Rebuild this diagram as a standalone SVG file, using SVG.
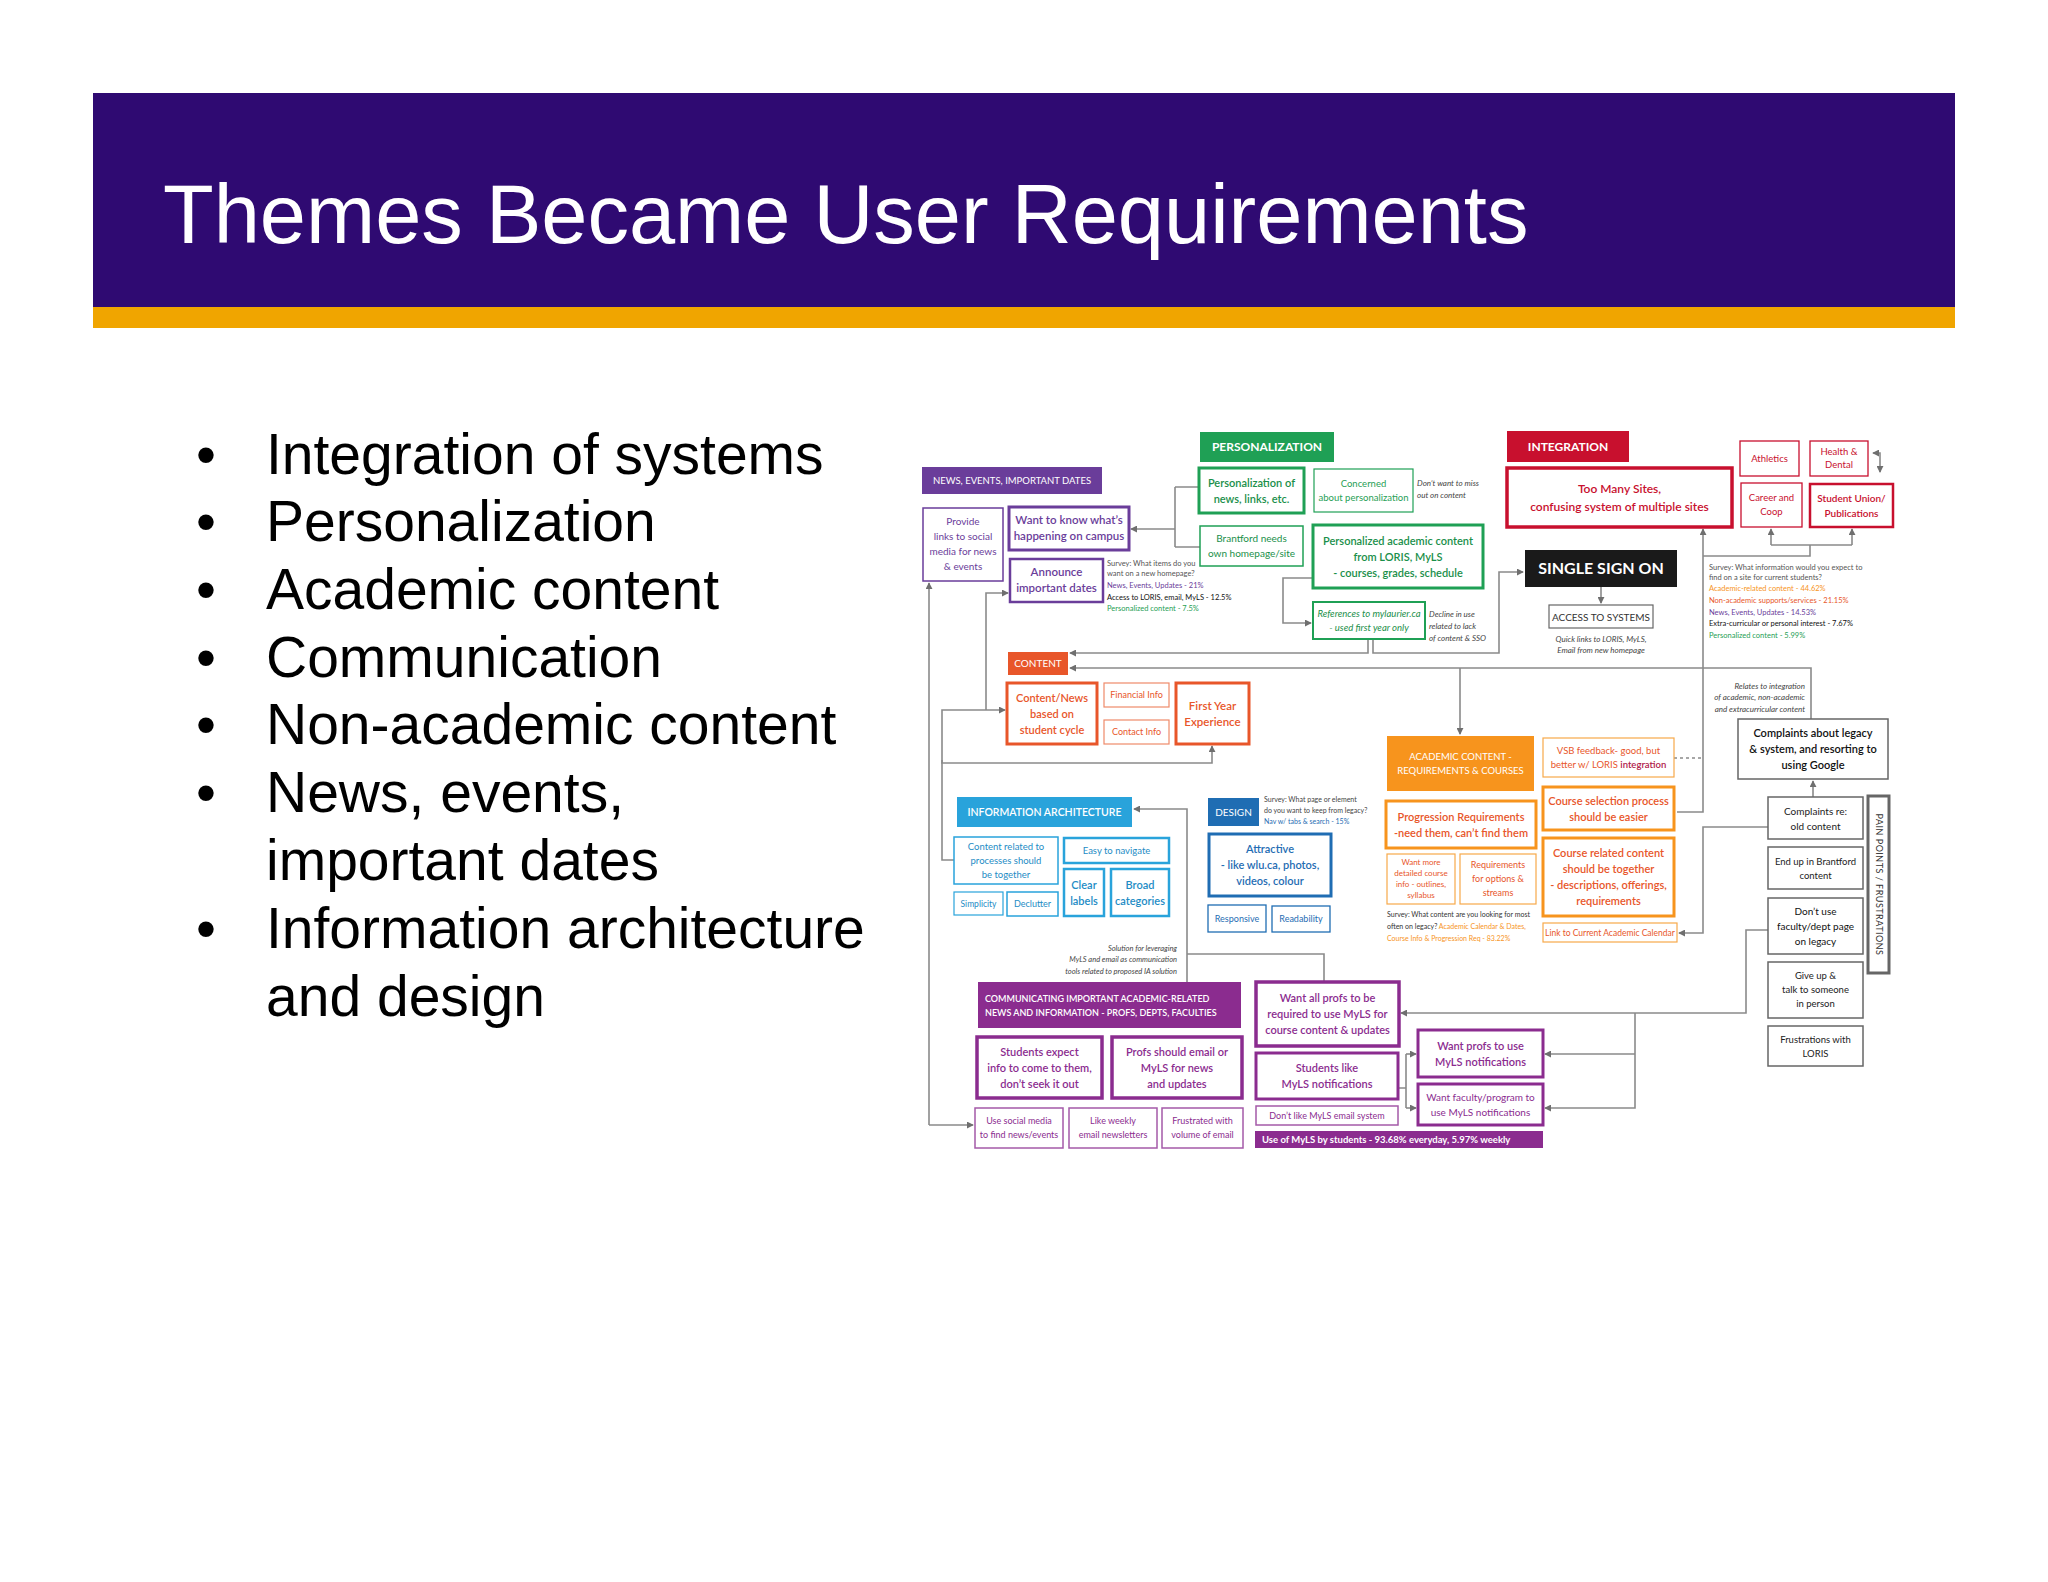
<svg xmlns="http://www.w3.org/2000/svg" width="2048" height="1582" viewBox="0 0 2048 1582">
<defs>
<style>
text{font-family:Lato,"Open Sans","DejaVu Sans",sans-serif}
.c{text-anchor:middle}
.b{font-weight:700}
.s{font-weight:600}
.i{font-style:italic}
.bul{font-family:"Liberation Sans",Arial,sans-serif;font-size:57px;fill:#000}
.ln{fill:none;stroke:#8a8a8a;stroke-width:1.6}
.ar{marker-end:url(#a)}
.g{fill:#444}
</style>
<marker id="a" viewBox="0 0 8 8" refX="7" refY="4" markerWidth="7" markerHeight="7" markerUnits="userSpaceOnUse" orient="auto-start-reverse"><path d="M0,0 L8,4 L0,8 z" fill="#6f6f6f"/></marker>
</defs>
<rect width="2048" height="1582" fill="#fff"/>
<rect x="93" y="93" width="1862" height="214" fill="#2f0a72"/>
<rect x="93" y="307" width="1862" height="21" fill="#f0a500"/>
<text x="163" y="243" font-size="83" fill="#fff" style="font-family:'Liberation Sans',Arial,sans-serif">Themes Became User Requirements</text>
<g id="bullets">
<text class="bul" x="196" y="474">•</text><text class="bul" x="266" y="474">Integration of systems</text>
<text class="bul" x="196" y="541">•</text><text class="bul" x="266" y="541">Personalization</text>
<text class="bul" x="196" y="609">•</text><text class="bul" x="266" y="609">Academic content</text>
<text class="bul" x="196" y="677">•</text><text class="bul" x="266" y="677">Communication</text>
<text class="bul" x="196" y="744">•</text><text class="bul" x="266" y="744">Non-academic content</text>
<text class="bul" x="196" y="812">•</text><text class="bul" x="266" y="812">News, events,</text>
<text class="bul" x="266" y="880">important dates</text>
<text class="bul" x="196" y="948">•</text><text class="bul" x="266" y="948">Information architecture</text>
<text class="bul" x="266" y="1016">and design</text>
</g>
<g id="connectors">
<path class="ln" d="M1175,487 H1199 M1175,547 H1200 M1175,487 V547"/>
<path class="ln ar" d="M1175,529 H1131"/>
<path class="ln ar" d="M929,1125 V583"/>
<path class="ln ar" d="M929,1125 H973"/>
<path class="ln ar" d="M954,860 H942 V710 H1005"/>
<path class="ln ar" d="M942,760 V763 H1212 V746"/>
<path class="ln ar" d="M986,710 V593 H1008"/>
<path class="ln ar" d="M1368,639 V653 H1070"/>
<path class="ln ar" d="M1373,639 V653 H1499 V572 H1523"/>
<path class="ln ar" d="M1313,578 H1283 V623 H1311"/>
<path class="ln ar" d="M1811,719 V668 H1070"/>
<path class="ln ar" d="M1460,668 V734"/>
<path class="ln ar" d="M1601,587 V603"/>
<path class="ln ar" d="M1677,812 H1703 V529"/>
<path class="ln" d="M1703,556 H1810 V545 M1771,545 H1852"/>
<path class="ln ar" d="M1771,545 V529"/>
<path class="ln ar" d="M1852,545 V529"/>
<path class="ln" d="M1880,472 V453 H1873" marker-start="url(#a)" marker-end="url(#a)"/>
<path class="ln" d="M1674,758 H1703" stroke-dasharray="3,3"/>
<path class="ln ar" d="M1768,827 H1703 V933 H1679"/>
<path class="ln ar" d="M1813,797 V781"/>
<path class="ln ar" d="M1768,930 H1746 V1013 H1401"/>
<path class="ln ar" d="M1635,1013 V1108 H1545"/>
<path class="ln ar" d="M1635,1054 H1545"/>
<path class="ln" d="M1398,1088 H1406 M1406,1054 V1108"/>
<path class="ln ar" d="M1406,1054 H1416"/>
<path class="ln ar" d="M1406,1108 H1416"/>
<path class="ln ar" d="M1187,982 V809 H1134"/>
<path class="ln" d="M1187,954 H1324 V982"/>
</g>
<g id="news">
<g id="n-news-h"><rect x="922" y="467" width="180" height="27" fill="#6a3d9a"/><text class="c" x="1012" y="484" font-size="9.5" fill="#fff">NEWS, EVENTS, IMPORTANT DATES</text></g>
<g id="n-provide"><rect x="923" y="508" width="80" height="73" fill="#fff" stroke="#6a3d9a" stroke-width="1.5"/><text class="c" font-size="10" fill="#6a3d9a"><tspan x="963" y="525">Provide</tspan><tspan x="963" y="540">links to social</tspan><tspan x="963" y="555">media for news</tspan><tspan x="963" y="570">&amp; events</tspan></text></g>
<g id="n-want"><rect x="1009" y="507" width="120" height="43" fill="#fff" stroke="#6a3d9a" stroke-width="3"/><text class="c s" font-size="11.5" fill="#6a3d9a"><tspan x="1069" y="524">Want to know what’s</tspan><tspan x="1069" y="540">happening on campus</tspan></text></g>
<g id="n-announce"><rect x="1010" y="559" width="93" height="43" fill="#fff" stroke="#6a3d9a" stroke-width="2.5"/><text class="c s" font-size="11.5" fill="#6a3d9a"><tspan x="1056.5" y="576">Announce</tspan><tspan x="1056.5" y="592">important dates</tspan></text></g>
<text font-size="7.5"><tspan x="1107" y="566" fill="#555">Survey: What items do you</tspan><tspan x="1107" y="576" fill="#555">want on a new homepage?</tspan><tspan x="1107" y="588" fill="#6a3d9a">News, Events, Updates - 21%</tspan><tspan x="1107" y="600" fill="#111">Access to LORIS, email, MyLS - 12.5%</tspan><tspan x="1107" y="611" fill="#1fa055">Personalized content - 7.5%</tspan></text>
</g>
<g id="personalization">
<g id="n-pers-h"><rect x="1200" y="432" width="134" height="30" fill="#1fa055"/><text class="c b" x="1267" y="451" font-size="12" fill="#fff">PERSONALIZATION</text></g>
<g id="n-pers-of"><rect x="1199" y="468" width="105" height="45" fill="#fff" stroke="#1fa055" stroke-width="3"/><text class="c s" font-size="11" fill="#1a8f4a"><tspan x="1251.5" y="487">Personalization of</tspan><tspan x="1251.5" y="503">news, links, etc.</tspan></text></g>
<g id="n-concerned"><rect x="1314" y="469" width="99" height="43" fill="#fff" stroke="#1fa055" stroke-width="1.2"/><text class="c" font-size="9.5" fill="#1fa055"><tspan x="1363.5" y="487">Concerned</tspan><tspan x="1363.5" y="501">about personalization</tspan></text></g>
<text class="i g" font-size="8"><tspan x="1417" y="486">Don’t want to miss</tspan><tspan x="1417" y="498">out on content</tspan></text>
<g id="n-brantford"><rect x="1200" y="526" width="103" height="40" fill="#fff" stroke="#1fa055" stroke-width="1.5"/><text class="c" font-size="10" fill="#1a8f4a"><tspan x="1251.5" y="542">Brantford needs</tspan><tspan x="1251.5" y="557">own homepage/site</tspan></text></g>
<g id="n-pers-acad"><rect x="1313" y="525" width="170" height="63" fill="#fff" stroke="#1fa055" stroke-width="3"/><text class="c s" font-size="11" fill="#1a8f4a"><tspan x="1398" y="545">Personalized academic content</tspan><tspan x="1398" y="561">from LORIS, MyLS</tspan><tspan x="1398" y="577">- courses, grades, schedule</tspan></text></g>
<g id="n-refs"><rect x="1313" y="602" width="112" height="37" fill="#fff" stroke="#1fa055" stroke-width="2"/><text class="c i" font-size="9.5" fill="#1a8f4a"><tspan x="1369" y="617">References to mylaurier.ca</tspan><tspan x="1369" y="631">- used first year only</tspan></text></g>
<text class="i g" font-size="8"><tspan x="1429" y="617">Decline in use</tspan><tspan x="1429" y="629">related to lack</tspan><tspan x="1429" y="641">of content &amp; SSO</tspan></text>
</g>
<g id="content">
<g id="n-content-h"><rect x="1008" y="652" width="60" height="23" fill="#e8562a"/><text class="c" x="1038" y="667" font-size="10" fill="#fff">CONTENT</text></g>
<g id="n-cycle"><rect x="1007" y="683" width="90" height="61" fill="#fff" stroke="#e8562a" stroke-width="3"/><text class="c s" font-size="11" fill="#e8562a"><tspan x="1052" y="702">Content/News</tspan><tspan x="1052" y="718">based on</tspan><tspan x="1052" y="734">student cycle</tspan></text></g>
<g id="n-fin"><rect x="1104" y="683" width="65" height="24" fill="#fff" stroke="#ef8a6a" stroke-width="1.2"/><text class="c" x="1136.5" y="698" font-size="9" fill="#e8562a">Financial Info</text></g>
<g id="n-contact"><rect x="1104" y="720" width="65" height="24" fill="#fff" stroke="#ef8a6a" stroke-width="1.2"/><text class="c" x="1136.5" y="735" font-size="9" fill="#e8562a">Contact Info</text></g>
<g id="n-fye"><rect x="1176" y="683" width="73" height="61" fill="#fff" stroke="#e8562a" stroke-width="3"/><text class="c s" font-size="11.5" fill="#e8562a"><tspan x="1212.5" y="710">First Year</tspan><tspan x="1212.5" y="726">Experience</tspan></text></g>
</g>
<g id="integration">
<g id="n-int-h"><rect x="1507" y="431" width="122" height="31" fill="#c8102e"/><text class="c b" x="1568" y="451" font-size="12" fill="#fff">INTEGRATION</text></g>
<g id="n-toomany"><rect x="1507" y="468" width="225" height="59" fill="#fff" stroke="#c8102e" stroke-width="3.5"/><text class="c s" font-size="12" fill="#c8102e"><tspan x="1619.5" y="493">Too Many Sites,</tspan><tspan x="1619.5" y="511">confusing system of multiple sites</tspan></text></g>
<g id="n-athl"><rect x="1740" y="441" width="59" height="35" fill="#fff" stroke="#c8102e" stroke-width="1.3"/><text class="c" x="1769.5" y="462" font-size="9.5" fill="#c8102e">Athletics</text></g>
<g id="n-health"><rect x="1810" y="441" width="58" height="35" fill="#fff" stroke="#c8102e" stroke-width="1.3"/><text class="c" font-size="9.5" fill="#c8102e"><tspan x="1839" y="455">Health &amp;</tspan><tspan x="1839" y="468">Dental</tspan></text></g>
<g id="n-career"><rect x="1741" y="483" width="61" height="44" fill="#fff" stroke="#c8102e" stroke-width="1.3"/><text class="c" font-size="9.5" fill="#c8102e"><tspan x="1771.5" y="501">Career and</tspan><tspan x="1771.5" y="515">Coop</tspan></text></g>
<g id="n-union"><rect x="1810" y="484" width="83" height="43" fill="#fff" stroke="#c8102e" stroke-width="2.5"/><text class="c s" font-size="10" fill="#c8102e"><tspan x="1851.5" y="502">Student Union/</tspan><tspan x="1851.5" y="517">Publications</tspan></text></g>
<g id="n-sso"><rect x="1525" y="550" width="152" height="37" fill="#1a1a1a"/><text class="c b" x="1601" y="574" font-size="16" fill="#fff">SINGLE SIGN ON</text></g>
<g id="n-access"><rect x="1549" y="605" width="104" height="23" fill="#fff" stroke="#666" stroke-width="1.2"/><text class="c" x="1601" y="620.5" font-size="10" fill="#333">ACCESS TO SYSTEMS</text></g>
<text class="c i g" font-size="8"><tspan x="1601" y="642">Quick links to LORIS, MyLS,</tspan><tspan x="1601" y="653">Email from new homepage</tspan></text>
<text font-size="7.5"><tspan x="1709" y="570" fill="#555">Survey: What information would you expect to</tspan><tspan x="1709" y="580" fill="#555">find on a site for current students?</tspan><tspan x="1709" y="591" fill="#f7941d">Academic-related content - 44.62%</tspan><tspan x="1709" y="603" fill="#e8562a">Non-academic supports/services - 21.15%</tspan><tspan x="1709" y="615" fill="#6a3d9a">News, Events, Updates - 14.53%</tspan><tspan x="1709" y="626" fill="#111">Extra-curricular or personal interest - 7.67%</tspan><tspan x="1709" y="638" fill="#1fa055">Personalized content - 5.99%</tspan></text>
<text class="i g" font-size="8" text-anchor="end"><tspan x="1805" y="689">Relates to integration</tspan><tspan x="1805" y="700">of academic, non-academic</tspan><tspan x="1805" y="712">and extracurricular content</tspan></text>
</g>
<g id="academic">
<g id="n-acad-h"><rect x="1387" y="736" width="147" height="55" fill="#f7941d"/><text class="c" font-size="9.5" fill="#fff"><tspan x="1460.5" y="760">ACADEMIC CONTENT -</tspan><tspan x="1460.5" y="774">REQUIREMENTS &amp; COURSES</tspan></text></g>
<g id="n-vsb"><rect x="1543" y="738" width="131" height="39" fill="#fff" stroke="#f7a94a" stroke-width="1.2"/><text class="c" font-size="9.5" fill="#e8562a"><tspan x="1608.5" y="754">VSB feedback- good, but</tspan><tspan x="1608.5" y="768">better w/ LORIS <tspan fill="#b0204a" font-weight="600">integration</tspan></tspan></text></g>
<g id="n-prog"><rect x="1386" y="801" width="150" height="47" fill="#fff" stroke="#f7941d" stroke-width="3"/><text class="c s" font-size="11" fill="#e8562a"><tspan x="1461" y="821">Progression Requirements</tspan><tspan x="1461" y="837">-need them, can’t find them</tspan></text></g>
<g id="n-wantmore"><rect x="1387" y="854" width="68" height="50" fill="#fff" stroke="#f7a94a" stroke-width="1.2"/><text class="c" font-size="8" fill="#e8562a"><tspan x="1421" y="865">Want more</tspan><tspan x="1421" y="876">detailed course</tspan><tspan x="1421" y="887">info - outlines,</tspan><tspan x="1421" y="898">syllabus</tspan></text></g>
<g id="n-reqopt"><rect x="1460" y="854" width="76" height="50" fill="#fff" stroke="#f7a94a" stroke-width="1.2"/><text class="c" font-size="9" fill="#e8562a"><tspan x="1498" y="868">Requirements</tspan><tspan x="1498" y="882">for options &amp;</tspan><tspan x="1498" y="896">streams</tspan></text></g>
<text font-size="7"><tspan x="1387" y="917" fill="#333">Survey: What content are you looking for most</tspan><tspan x="1387" y="929" fill="#333">often on legacy? <tspan fill="#f7941d">Academic Calendar &amp; Dates,</tspan></tspan><tspan x="1387" y="941" fill="#f7941d">Course Info &amp; Progression Req - 83.22%</tspan></text>
<g id="n-coursesel"><rect x="1543" y="787" width="131" height="43" fill="#fff" stroke="#f7941d" stroke-width="3"/><text class="c s" font-size="11" fill="#e8562a"><tspan x="1608.5" y="805">Course selection process</tspan><tspan x="1608.5" y="821">should be easier</tspan></text></g>
<g id="n-courserel"><rect x="1543" y="838" width="131" height="78" fill="#fff" stroke="#f7941d" stroke-width="3"/><text class="c s" font-size="11" fill="#e8562a"><tspan x="1608.5" y="857">Course related content</tspan><tspan x="1608.5" y="873">should be together</tspan><tspan x="1608.5" y="889">- descriptions, offerings,</tspan><tspan x="1608.5" y="905">requirements</tspan></text></g>
<g id="n-link"><rect x="1543" y="923" width="134" height="19" fill="#fff" stroke="#f7a94a" stroke-width="1.2"/><text class="c" x="1610" y="936" font-size="8.5" fill="#e8562a">Link to Current Academic Calendar</text></g>
</g>
<g id="pain">
<g id="n-legacy"><rect x="1738" y="719" width="150" height="60" fill="#fff" stroke="#666" stroke-width="1.5"/><text class="c s" font-size="11" fill="#111"><tspan x="1813" y="737">Complaints about legacy</tspan><tspan x="1813" y="753">&amp; system, and resorting to</tspan><tspan x="1813" y="769">using Google</tspan></text></g>
<g id="n-oldcontent"><rect x="1768" y="797" width="95" height="42" fill="#fff" stroke="#666" stroke-width="1.5"/><text class="c" font-size="10" fill="#222"><tspan x="1815.5" y="815">Complaints re:</tspan><tspan x="1815.5" y="830">old content</tspan></text></g>
<g id="n-endup"><rect x="1768" y="847" width="95" height="42" fill="#fff" stroke="#666" stroke-width="1.5"/><text class="c" font-size="9.5" fill="#222"><tspan x="1815.5" y="865">End up in Brantford</tspan><tspan x="1815.5" y="879">content</tspan></text></g>
<g id="n-dontuse"><rect x="1768" y="898" width="95" height="56" fill="#fff" stroke="#666" stroke-width="1.5"/><text class="c" font-size="10" fill="#111"><tspan x="1815.5" y="915">Don’t use</tspan><tspan x="1815.5" y="930">faculty/dept page</tspan><tspan x="1815.5" y="945">on legacy</tspan></text></g>
<g id="n-giveup"><rect x="1768" y="962" width="95" height="56" fill="#fff" stroke="#666" stroke-width="1.5"/><text class="c" font-size="9.5" fill="#222"><tspan x="1815.5" y="979">Give up &amp;</tspan><tspan x="1815.5" y="993">talk to someone</tspan><tspan x="1815.5" y="1007">in person</tspan></text></g>
<g id="n-loris"><rect x="1768" y="1026" width="95" height="40" fill="#fff" stroke="#666" stroke-width="1.5"/><text class="c" font-size="9.5" fill="#222"><tspan x="1815.5" y="1043">Frustrations with</tspan><tspan x="1815.5" y="1057">LORIS</tspan></text></g>
<g id="n-painpoints"><rect x="1868" y="796" width="21" height="177" fill="#fff" stroke="#666" stroke-width="3"/><text class="c" x="0" y="0" font-size="9" fill="#333" letter-spacing="0.5" transform="translate(1875.5,884.5) rotate(90)">PAIN POINTS / FRUSTRATIONS</text></g>
</g>
<g id="ia">
<g id="n-ia-h"><rect x="957" y="797" width="175" height="30" fill="#29a3db"/><text class="c s" x="1044.5" y="816" font-size="10.5" fill="#fff">INFORMATION ARCHITECTURE</text></g>
<g id="n-processes"><rect x="954" y="837" width="104" height="47" fill="#fff" stroke="#29a3db" stroke-width="1.5"/><text class="c" font-size="9.5" fill="#1e8cc5"><tspan x="1006" y="850">Content related to</tspan><tspan x="1006" y="864">processes should</tspan><tspan x="1006" y="878">be together</tspan></text></g>
<g id="n-easy"><rect x="1064" y="838" width="105" height="25" fill="#fff" stroke="#29a3db" stroke-width="2.5"/><text class="c" x="1116.5" y="854" font-size="9.5" fill="#1e8cc5">Easy to navigate</text></g>
<g id="n-clear"><rect x="1064" y="869" width="40" height="47" fill="#fff" stroke="#29a3db" stroke-width="2.5"/><text class="c s" font-size="11" fill="#1e8cc5"><tspan x="1084" y="889">Clear</tspan><tspan x="1084" y="905">labels</tspan></text></g>
<g id="n-broad"><rect x="1111" y="869" width="58" height="47" fill="#fff" stroke="#29a3db" stroke-width="2.5"/><text class="c s" font-size="11" fill="#1e8cc5"><tspan x="1140" y="889">Broad</tspan><tspan x="1140" y="905">categories</tspan></text></g>
<g id="n-simplicity"><rect x="954" y="892" width="49" height="23" fill="#fff" stroke="#29a3db" stroke-width="1.2"/><text class="c" x="978.5" y="906.5" font-size="8.5" fill="#1e8cc5">Simplicity</text></g>
<g id="n-declutter"><rect x="1007" y="892" width="51" height="24" fill="#fff" stroke="#29a3db" stroke-width="1.5"/><text class="c" x="1032.5" y="907" font-size="9" fill="#1e8cc5">Declutter</text></g>
</g>
<g id="design">
<g id="n-design-h"><rect x="1208" y="798" width="51" height="28" fill="#1f6db3"/><text class="c" x="1233.5" y="816" font-size="10" fill="#fff">DESIGN</text></g>
<text font-size="7"><tspan x="1264" y="802" fill="#444">Survey: What page or element</tspan><tspan x="1264" y="813" fill="#444">do you want to keep from legacy?</tspan><tspan x="1264" y="824" fill="#1f6db3">Nav w/ tabs &amp; search - 15%</tspan></text>
<g id="n-attractive"><rect x="1209" y="834" width="122" height="62" fill="#fff" stroke="#1f6db3" stroke-width="3"/><text class="c s" font-size="11" fill="#1f6db3"><tspan x="1270" y="853">Attractive</tspan><tspan x="1270" y="869">- like wlu.ca, photos,</tspan><tspan x="1270" y="885">videos, colour</tspan></text></g>
<g id="n-responsive"><rect x="1208" y="905" width="58" height="27" fill="#fff" stroke="#1f6db3" stroke-width="1.3"/><text class="c" x="1237" y="922" font-size="9" fill="#1f6db3">Responsive</text></g>
<g id="n-readability"><rect x="1272" y="906" width="58" height="26" fill="#fff" stroke="#1f6db3" stroke-width="1.3"/><text class="c" x="1301" y="922" font-size="9" fill="#1f6db3">Readability</text></g>
</g>
<g id="communication">
<text class="i g" font-size="7.5" text-anchor="end"><tspan x="1177" y="951">Solution for leveraging</tspan><tspan x="1177" y="962">MyLS and email  as communication</tspan><tspan x="1177" y="974">tools related to proposed IA solution</tspan></text>
<g id="n-comm-h"><rect x="978" y="982" width="263" height="46" fill="#8b2c8f"/><text class="s" font-size="9" fill="#fff"><tspan x="985" y="1002">COMMUNICATING IMPORTANT ACADEMIC-RELATED</tspan><tspan x="985" y="1016">NEWS AND INFORMATION - PROFS, DEPTS, FACULTIES</tspan></text></g>
<g id="n-expect"><rect x="977" y="1037" width="125" height="61" fill="#fff" stroke="#8b2c8f" stroke-width="3.5"/><text class="c s" font-size="11" fill="#8b2c8f"><tspan x="1039.5" y="1056">Students expect</tspan><tspan x="1039.5" y="1072">info to come to them,</tspan><tspan x="1039.5" y="1088">don’t seek it out</tspan></text></g>
<g id="n-profs-email"><rect x="1112" y="1037" width="130" height="61" fill="#fff" stroke="#8b2c8f" stroke-width="3.5"/><text class="c s" font-size="11" fill="#8b2c8f"><tspan x="1177" y="1056">Profs should email or</tspan><tspan x="1177" y="1072">MyLS for news</tspan><tspan x="1177" y="1088">and updates</tspan></text></g>
<g id="n-social"><rect x="975" y="1108" width="88" height="40" fill="#fff" stroke="#a45aa8" stroke-width="1.5"/><text class="c" font-size="9" fill="#8b2c8f"><tspan x="1019" y="1124">Use social media</tspan><tspan x="1019" y="1138">to find news/events</tspan></text></g>
<g id="n-weekly"><rect x="1069" y="1108" width="88" height="40" fill="#fff" stroke="#a45aa8" stroke-width="1.5"/><text class="c" font-size="9" fill="#8b2c8f"><tspan x="1113" y="1124">Like weekly</tspan><tspan x="1113" y="1138">email newsletters</tspan></text></g>
<g id="n-volume"><rect x="1162" y="1108" width="81" height="40" fill="#fff" stroke="#a45aa8" stroke-width="1.5"/><text class="c" font-size="9" fill="#8b2c8f"><tspan x="1202.5" y="1124">Frustrated with</tspan><tspan x="1202.5" y="1138">volume of email</tspan></text></g>
<g id="n-allprofs"><rect x="1256" y="982" width="143" height="64" fill="#fff" stroke="#8b2c8f" stroke-width="3.5"/><text class="c s" font-size="11" fill="#8b2c8f"><tspan x="1327.5" y="1002">Want all profs to be</tspan><tspan x="1327.5" y="1018">required to use MyLS for</tspan><tspan x="1327.5" y="1034">course content &amp; updates</tspan></text></g>
<g id="n-likenotif"><rect x="1256" y="1053" width="142" height="46" fill="#fff" stroke="#8b2c8f" stroke-width="3"/><text class="c s" font-size="11" fill="#8b2c8f"><tspan x="1327" y="1072">Students like</tspan><tspan x="1327" y="1088">MyLS notifications</tspan></text></g>
<g id="n-dontlike"><rect x="1256" y="1106" width="142" height="19" fill="#fff" stroke="#a45aa8" stroke-width="1.5"/><text class="c" x="1327" y="1119" font-size="9" fill="#8b2c8f">Don’t like MyLS email system</text></g>
<g id="n-usage"><rect x="1255" y="1131" width="288" height="17" fill="#8b2c8f"/><text class="b" x="1262" y="1143" font-size="9.5" fill="#fff">Use of MyLS by students - 93.68% everyday, 5.97% weekly</text></g>
<g id="n-profsnotif"><rect x="1418" y="1030" width="125" height="47" fill="#fff" stroke="#8b2c8f" stroke-width="3"/><text class="c s" font-size="11" fill="#8b2c8f"><tspan x="1480.5" y="1050">Want profs to use</tspan><tspan x="1480.5" y="1066">MyLS notifications</tspan></text></g>
<g id="n-facnotif"><rect x="1418" y="1084" width="125" height="41" fill="#fff" stroke="#8b2c8f" stroke-width="3"/><text class="c" font-size="10" fill="#8b2c8f"><tspan x="1480.5" y="1101">Want faculty/program to</tspan><tspan x="1480.5" y="1116">use MyLS notifications</tspan></text></g>
</g>
</svg>
